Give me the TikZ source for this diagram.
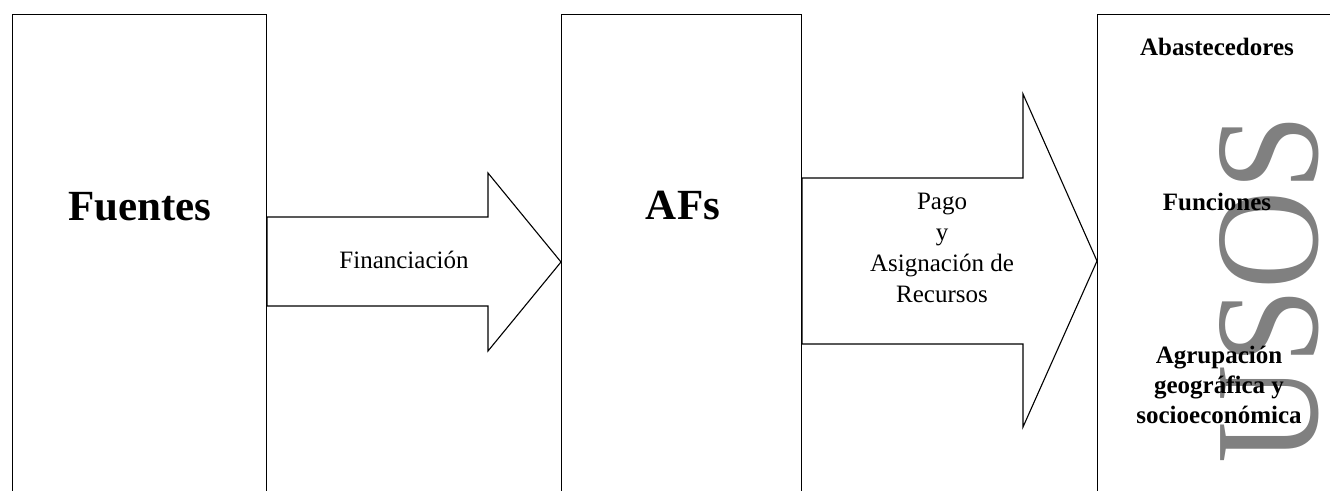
\documentclass[tikz,border=0pt]{standalone}
\usepackage{graphicx}
\usepackage{fontspec}
\setmainfont{Liberation Serif}
\usetikzlibrary{positioning,calc}

\begin{document}
\begin{tikzpicture}[x=1pt,y=-1pt,
    panel/.style={draw, line width=1.1pt, inner sep=0pt, anchor=north west, minimum height=520pt},
    blockarrow/.style={draw, fill=white, line width=1.1pt, line join=miter},
    title/.style={font=\bfseries\fontsize{43}{50}\selectfont, anchor=base, inner sep=0pt},
    flow/.style={font=\fontsize{25}{31}\selectfont, align=center, anchor=base, inner sep=0pt},
    item/.style={font=\bfseries\fontsize{25}{30}\selectfont, align=center, anchor=base, inner sep=0pt}]
    \useasboundingbox (0,0) rectangle (1330,490);
    \clip (0,0) rectangle (1330,490);

    % Boxes
    \node [panel, minimum width=254pt] (fuentes) at (12,14) {};
    \node [panel, minimum width=240pt] (afs) at (561,14) {};
    \node [panel, minimum width=300pt] (usos) at (1097,14) {};

    % Arrows
    \draw [blockarrow] (fuentes.east |- 0,217) -- (488,217) -- (488,173) -- (afs.west |- 0,262)
        -- (488,351) -- (488,306) -- (fuentes.east |- 0,306) -- cycle;
    \draw [blockarrow] (afs.east |- 0,178) -- (1023,178) -- (1023,94) -- (usos.west |- 0,261)
        -- (1023,427) -- (1023,344) -- (afs.east |- 0,344) -- cycle;

    % Labels
    \node [title] (lfuentes) at (140,220) {Fuentes};
    \node [title] (lafs) at (683,219) {AFs};
    \node [flow] (lfin) at (404,268) {Financiación};
    \node [flow] (lpago) at (942,302) {Pago\\y\\Asignación de\\Recursos};

    % Usos
    \node [font=\fontsize{148}{148}\selectfont, text=gray, rotate=90, anchor=base, inner sep=0pt] (lusos) at (1317,289) {\scalebox{0.92}[1]{USOS}};
    \node [item] (labas) at (1217,55) {Abastecedores};
    \node [item] (lfunc) at (1217,210) {Funciones};
    \node [item] (lagru) at (1219,423) {Agrupación\\geográfica y\\socioeconómica};
\end{tikzpicture}
\end{document}
